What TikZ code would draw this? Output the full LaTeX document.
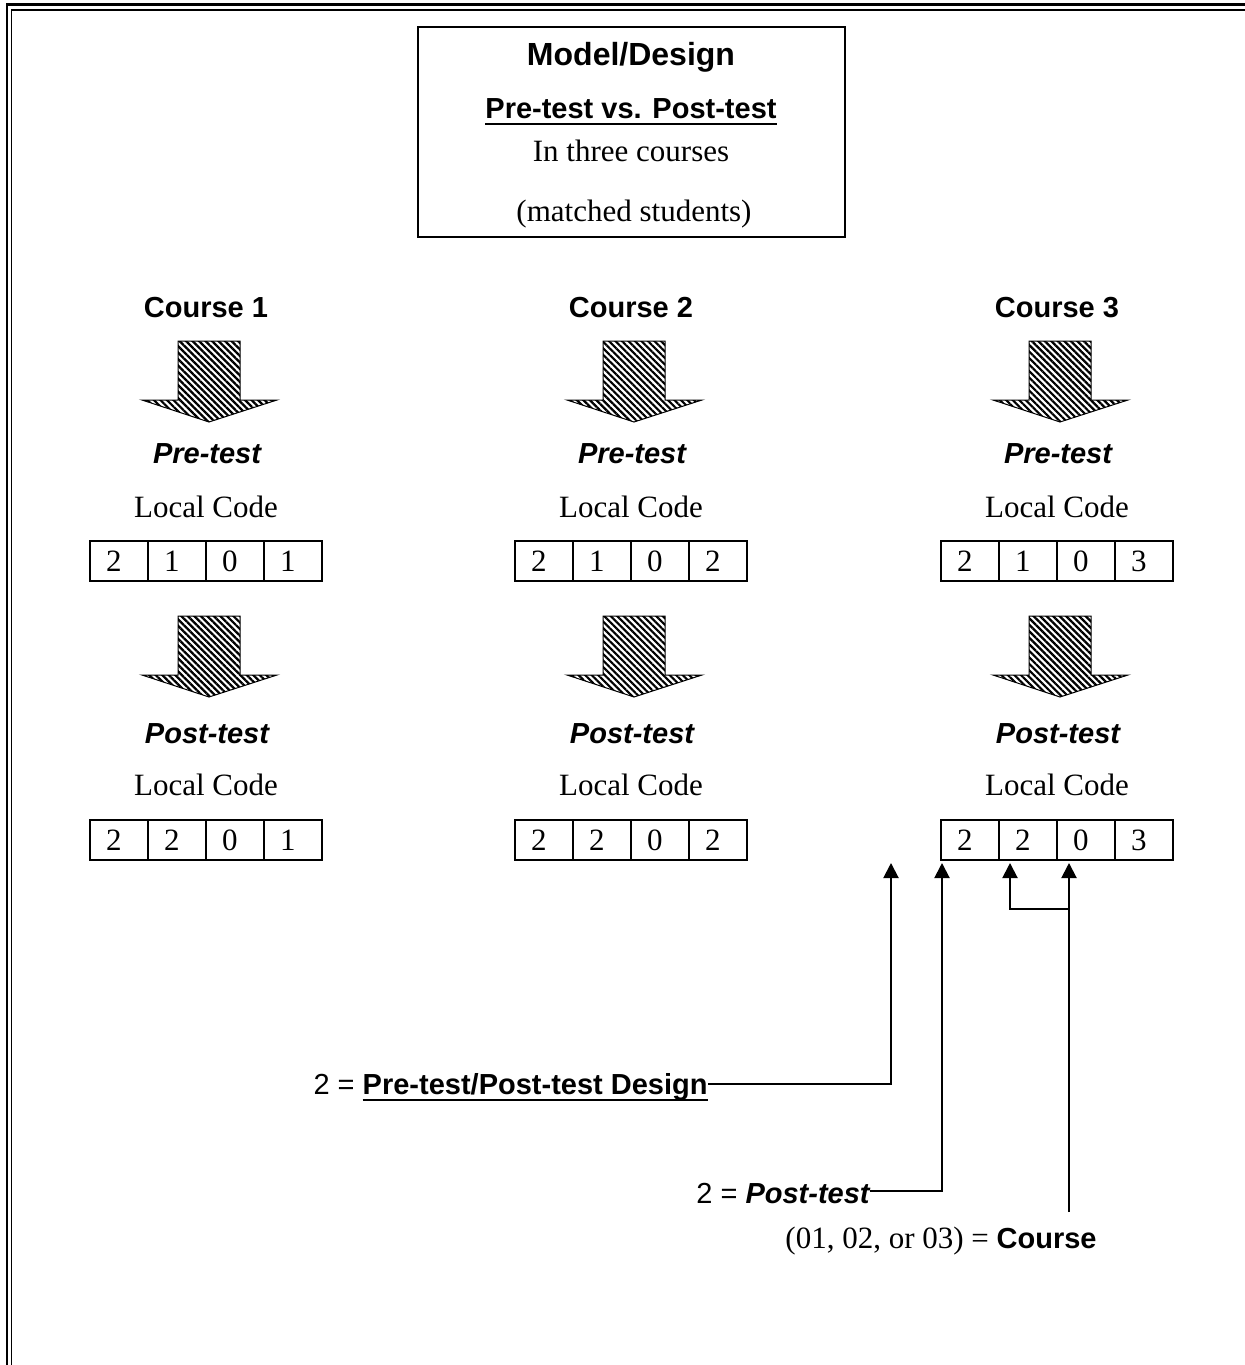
\documentclass[tikz,border=0pt]{standalone}
\usepackage{fontspec}
\setmainfont{Liberation Serif}
\setsansfont{Liberation Sans}
\usetikzlibrary{arrows.meta,positioning,patterns.meta}

\newcommand{\fatunderline}[1]{\sbox0{#1}\rlap{\rule[-3.5pt]{\wd0}{1pt}}\usebox0}

\tikzset{
  frameline/.style={line width=1pt},
  title/.style={font=\sffamily\bfseries\fontsize{16}{19}\selectfont},
  head/.style={font=\sffamily\bfseries\fontsize{14.5}{17}\selectfont},
  testlbl/.style={font=\sffamily\bfseries\itshape\fontsize{14.5}{17}\selectfont},
  plain/.style={font=\fontsize{15.5}{18}\selectfont},
  note/.style={font=\sffamily\fontsize{14.5}{17}\selectfont,inner sep=0pt,text depth=0pt},
  cell/.style={draw,frameline,font=\fontsize{15.5}{18}\selectfont,minimum height=20pt,
    text width=13pt,align=left,inner xsep=8pt,inner ysep=0pt,outer sep=0pt},
  hatcharrow/.style={draw=black,line width=0.5pt,
    pattern={Lines[angle=-45,distance=2.3pt,line width=1.1pt]}},
  pointer/.style={line width=1pt,-{Triangle[length=7.5pt,width=7.5pt]}}
}

\begin{document}
\begin{tikzpicture}[x=0.5pt,y=-0.5pt]
\useasboundingbox (0,0) rectangle (1244,1365);
% double rule on top and left
\draw[line width=1.15pt] (7,1370) -- (7,4.5) -- (1250,4.5);
\draw[line width=0.7pt] (11.7,1370) -- (11.7,9.8) -- (1250,9.8);

% heading box
\node[draw,frameline,minimum width=213.5pt,minimum height=105pt,inner sep=0pt] (design) at (631.5,132) {};
\node[title] (model) at (631,57) {Model/Design};
\node[head] (prepost) at (631,112) {\fatunderline{Pre-test vs. Post-test}};
\node[plain] (three) at (631,151) {In three courses};
\node[plain] (matched) at (634,214) {(matched students)};

% course 1
\pgfmathsetmacro{\colx}{206}
\node[head] (course1) at (\colx,308) {Course 1};
\draw[hatcharrow] (\colx-28,341) -- ++(62,0) -- ++(0,59) -- ++(37,0) -- (\colx+3,422) -- (\colx-64,400) -- ++(36,0) -- cycle;
\node[testlbl] (pre1) at (\colx+1,454) {Pre-test};
\node[plain] (localpre1) at (\colx,507) {Local Code};
\node[cell] (pre1a) at (\colx-87,561) {2};
\node[cell,right=0pt of pre1a] (pre1b) {1};
\node[cell,right=0pt of pre1b] (pre1c) {0};
\node[cell,right=0pt of pre1c] (pre1d) {1};
\draw[hatcharrow] (\colx-28,616) -- ++(62,0) -- ++(0,59) -- ++(37,0) -- (\colx+3,697) -- (\colx-64,675) -- ++(36,0) -- cycle;
\node[testlbl] (post1) at (\colx+1,734) {Post-test};
\node[plain] (localpost1) at (\colx,785) {Local Code};
\node[cell] (post1a) at (\colx-87,840) {2};
\node[cell,right=0pt of post1a] (post1b) {2};
\node[cell,right=0pt of post1b] (post1c) {0};
\node[cell,right=0pt of post1c] (post1d) {1};

% course 2
\pgfmathsetmacro{\colx}{631}
\node[head] (course2) at (\colx,308) {Course 2};
\draw[hatcharrow] (\colx-28,341) -- ++(62,0) -- ++(0,59) -- ++(37,0) -- (\colx+3,422) -- (\colx-64,400) -- ++(36,0) -- cycle;
\node[testlbl] (pre2) at (\colx+1,454) {Pre-test};
\node[plain] (localpre2) at (\colx,507) {Local Code};
\node[cell] (pre2a) at (\colx-87,561) {2};
\node[cell,right=0pt of pre2a] (pre2b) {1};
\node[cell,right=0pt of pre2b] (pre2c) {0};
\node[cell,right=0pt of pre2c] (pre2d) {2};
\draw[hatcharrow] (\colx-28,616) -- ++(62,0) -- ++(0,59) -- ++(37,0) -- (\colx+3,697) -- (\colx-64,675) -- ++(36,0) -- cycle;
\node[testlbl] (post2) at (\colx+1,734) {Post-test};
\node[plain] (localpost2) at (\colx,785) {Local Code};
\node[cell] (post2a) at (\colx-87,840) {2};
\node[cell,right=0pt of post2a] (post2b) {2};
\node[cell,right=0pt of post2b] (post2c) {0};
\node[cell,right=0pt of post2c] (post2d) {2};

% course 3
\pgfmathsetmacro{\colx}{1057}
\node[head] (course3) at (\colx,308) {Course 3};
\draw[hatcharrow] (\colx-28,341) -- ++(62,0) -- ++(0,59) -- ++(37,0) -- (\colx+3,422) -- (\colx-64,400) -- ++(36,0) -- cycle;
\node[testlbl] (pre3) at (\colx+1,454) {Pre-test};
\node[plain] (localpre3) at (\colx,507) {Local Code};
\node[cell] (pre3a) at (\colx-87,561) {2};
\node[cell,right=0pt of pre3a] (pre3b) {1};
\node[cell,right=0pt of pre3b] (pre3c) {0};
\node[cell,right=0pt of pre3c] (pre3d) {3};
\draw[hatcharrow] (\colx-28,616) -- ++(62,0) -- ++(0,59) -- ++(37,0) -- (\colx+3,697) -- (\colx-64,675) -- ++(36,0) -- cycle;
\node[testlbl] (post3) at (\colx+1,734) {Post-test};
\node[plain] (localpost3) at (\colx,785) {Local Code};
\node[cell] (post3a) at (\colx-87,840) {2};
\node[cell,right=0pt of post3a] (post3b) {2};
\node[cell,right=0pt of post3b] (post3c) {0};
\node[cell,right=0pt of post3c] (post3d) {3};

% key to the code digits
\coordinate (tipA) at (891,863);
\coordinate (tipB) at (942,863);
\coordinate (tipC) at (1069,863);
\coordinate (tipD) at (1010,863);
\coordinate (forkC) at (1069,909);
\node[note,anchor=base east] (lblDesign) at (708,1094) {2 = {\bfseries\fatunderline{Pre-test/Post-test Design}}};
\node[note,anchor=base east,text height=1.2em] (lblPost) at (870,1203) {2 = {\bfseries\itshape Post-test}};
\node[plain,anchor=base east,inner xsep=0pt,inner ysep=7pt] (lblCourse) at (1097,1248) {(01, 02, or 03) = {\sffamily\bfseries\fontsize{14.5}{17}\selectfont Course}};
\draw[pointer] (lblDesign.east) -| (tipA);
\draw[pointer] (lblPost.east) -| (tipB);
\draw[pointer] (lblCourse.north -| tipC) -- (tipC);
\draw[pointer] (forkC) -| (tipD);
\end{tikzpicture}
\end{document}
